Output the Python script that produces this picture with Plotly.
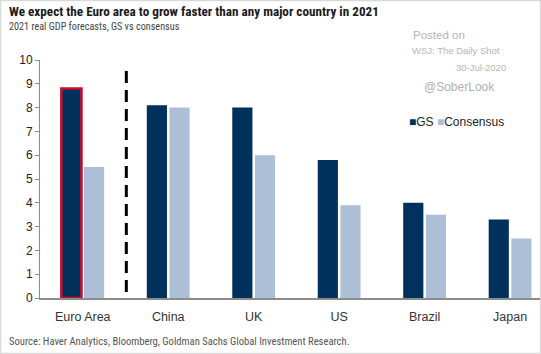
import plotly.graph_objects as go

categories = ["Euro Area", "China", "UK", "US", "Brazil", "Japan"]
gs_values = [8.8, 8.1, 8.0, 5.8, 4.0, 3.3]
consensus_values = [5.5, 8.0, 6.0, 3.9, 3.5, 2.5]
y_ticks = [0, 1, 2, 3, 4, 5, 6, 7, 8, 9, 10]

NAVY = "#00305c"
LIGHT = "#adbfd6"
W, H = 541, 354
ML, MR, MT, MB = 40, 1, 60, 56
PW = W - ML - MR
PH = H - MT - MB

gs_line_colors = ["#c8102e"] + [NAVY] * (len(categories) - 1)
gs_line_widths = [2.5] + [0] * (len(categories) - 1)

fig = go.Figure()
fig.add_trace(go.Bar(x=categories, y=gs_values, name="GS", marker=dict(color=NAVY, line=dict(color=gs_line_colors, width=gs_line_widths))))
fig.add_trace(go.Bar(x=categories, y=consensus_values, name="Consensus", marker=dict(color=LIGHT, line=dict(width=0))))

TEXTFONT = "Liberation Sans Narrow, Roboto Condensed, DejaVu Sans Condensed, Arial Narrow, sans-serif"
ARIAL = "Liberation Sans, Arial, sans-serif"

def px_x(px):
    return (px - ML) / PW

def px_y(py):
    return 1 - (py - MT) / PH

annotations = [
    dict(text="<b>We expect the Euro area to grow faster than any major country in 2021</b>", x=px_x(7), y=px_y(11), xanchor="left", yanchor="middle", font=dict(family=TEXTFONT, size=13.2, color="#1a1a1a")),
    dict(text="2021 real GDP forecasts, GS vs consensus", x=px_x(7), y=px_y(26), xanchor="left", yanchor="middle", font=dict(family=TEXTFONT, size=10.2, color="#444444")),
    dict(text="Posted on", x=px_x(411), y=px_y(35), xanchor="left", yanchor="middle", font=dict(family=ARIAL, size=11.5, color="#b5b5b5")),
    dict(text="WSJ: The Daily Shot", x=px_x(410), y=px_y(51), xanchor="left", yanchor="middle", font=dict(family=ARIAL, size=9.5, color="#b5b5b5")),
    dict(text="30-Jul-2020", x=px_x(508), y=px_y(67), xanchor="right", yanchor="middle", font=dict(family=ARIAL, size=9.5, color="#b5b5b5")),
    dict(text="@SoberLook", x=px_x(422), y=px_y(87), xanchor="left", yanchor="middle", font=dict(family=ARIAL, size=12, color="#b0b0b0")),
    dict(text=f"<span style='color:{NAVY}'>■</span>GS <span style='color:{LIGHT}'>■</span>Consensus", x=px_x(407), y=px_y(122), xanchor="left", yanchor="middle", font=dict(family=ARIAL, size=12, color="#222222")),
    dict(text="Source: Haver Analytics, Bloomberg, Goldman Sachs Global Investment Research.", x=px_x(7), y=px_y(341), xanchor="left", yanchor="middle", font=dict(family=TEXTFONT, size=10.6, color="#555555")),
]
for a in annotations:
    a.update(xref="paper", yref="paper", showarrow=False)

shapes = [
    dict(type="line", xref="x", yref="y", x0=0.51, x1=0.51, y0=0.25, y1=9.6, line=dict(color="black", width=3, dash="12px,7px")),
    dict(type="rect", xref="paper", yref="paper", x0=px_x(0.5), x1=px_x(W - 0.5), y0=px_y(H - 0.5), y1=px_y(0.5), line=dict(color="#d9d9d9", width=1.5), layer="below"),
]

fig.update_layout(
    width=W, height=H,
    margin=dict(l=ML, r=MR, t=MT, b=MB, pad=0),
    paper_bgcolor="white", plot_bgcolor="white",
    barmode="group", bargap=0.47, bargroupgap=0.11,
    showlegend=False,
    annotations=annotations, shapes=shapes,
    font=dict(family=ARIAL, size=12, color="#222222"),
)
fig.update_xaxes(range=[-0.5, 5.35], showline=True, linecolor="#8c8c8c", linewidth=1.5, ticks="", showgrid=False,
                 tickfont=dict(family=ARIAL, size=12.5, color="#333333"), ticklabelstandoff=6)
fig.update_yaxes(range=[0, 10], tickvals=y_ticks, showline=True, linecolor="#8c8c8c", linewidth=1, ticks="outside", ticklen=4,
                 tickcolor="#8c8c8c", showgrid=False, zeroline=False, tickfont=dict(family=ARIAL, size=12, color="#222222"))

fig.write_html("out.html")
